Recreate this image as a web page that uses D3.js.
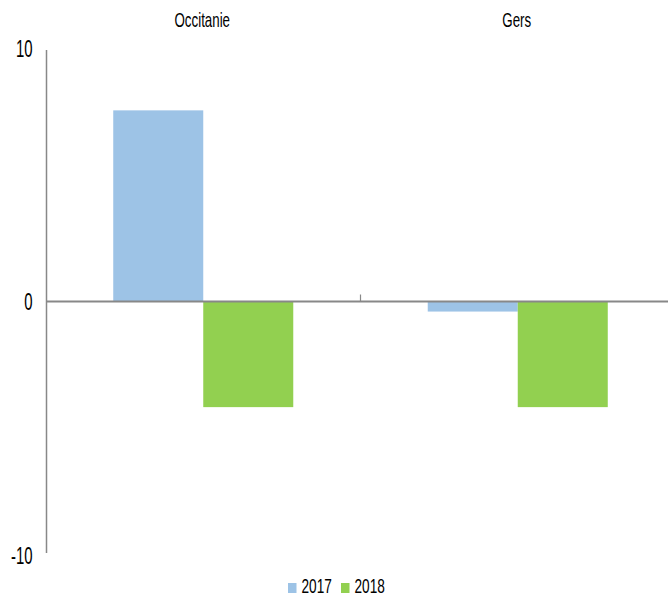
<!DOCTYPE html>
<html><head><meta charset="utf-8">
<script src="https://cdn.jsdelivr.net/npm/d3@7"></script>
<style>body{margin:0;background:#fff;} text{font-family:"Liberation Sans",Arial,sans-serif;fill:#000;}</style>
</head><body>
<svg id="c" width="668" height="597"></svg>
<script>
const categories = ["Occitanie", "Gers"];
const years = ["2017", "2018"];
const values2017 = [7.6, -0.4];
const values2018 = [-4.2, -4.2];
const yTicks = [10, 0, -10];
const colors = ["#9DC3E6", "#92D050"];

const svg = d3.select("#c");
const y = d3.scaleLinear().domain([-10, 10]).range([553, 50]);
const x0 = d3.scaleBand().domain(categories).range([46, 675]).paddingInner(0).paddingOuter(0);
const x1 = d3.scaleBand().domain(years).range([0, x0.bandwidth()]).paddingInner(0).paddingOuter(0.747);
const series = [values2017, values2018];
const SX = 0.65;

function label(g, x, yy, txt, size, anchor) {
  return g.append("text")
    .attr("transform", `translate(${x},${yy}) scale(${SX},1)`)
    .attr("text-anchor", anchor).attr("font-size", size).text(txt);
}

// bars
years.forEach((yr, si) => {
  svg.append("g").selectAll("rect").data(categories).join("rect")
    .attr("x", c => x0(c) + x1(yr))
    .attr("width", x1.bandwidth())
    .attr("y", (c, i) => y(Math.max(0, series[si][i])))
    .attr("height", (c, i) => Math.abs(y(series[si][i]) - y(0)))
    .attr("fill", colors[si]);
});

// y axis line
svg.append("line").attr("x1", 46.5).attr("x2", 46.5).attr("y1", y(10)).attr("y2", y(-10))
  .attr("stroke", "#888").attr("stroke-width", 1.5);
// zero line
svg.append("line").attr("x1", 46).attr("x2", 668).attr("y1", y(0)).attr("y2", y(0))
  .attr("stroke", "#888").attr("stroke-width", 2);
// category separator tick
svg.append("line").attr("x1", x0("Gers")).attr("x2", x0("Gers")).attr("y1", y(0) - 7).attr("y2", y(0))
  .attr("stroke", "#888").attr("stroke-width", 1.2);

// y tick labels
const yg = svg.append("g");
yTicks.forEach(d => {
  const off = d === 10 ? 6.5 : d === 0 ? 8.5 : 11;
  label(yg, 32.5, y(d) + off, String(d), 23, "end");
});

// category labels at top
const cg = svg.append("g");
categories.forEach(c => label(cg, x0(c) + x0.bandwidth() / 2 - 1, 26.5, c, 20.5, "middle"));

// legend
const legend = [{label: years[0], x: 288}, {label: years[1], x: 341}];
const lg = svg.append("g");
legend.forEach((l, i) => {
  lg.append("rect").attr("x", l.x).attr("y", 583).attr("width", 8.5).attr("height", 10).attr("fill", colors[i]);
  label(lg, l.x + 13.5, 592.5, l.label, 21, "start");
});
</script>
</body></html>
